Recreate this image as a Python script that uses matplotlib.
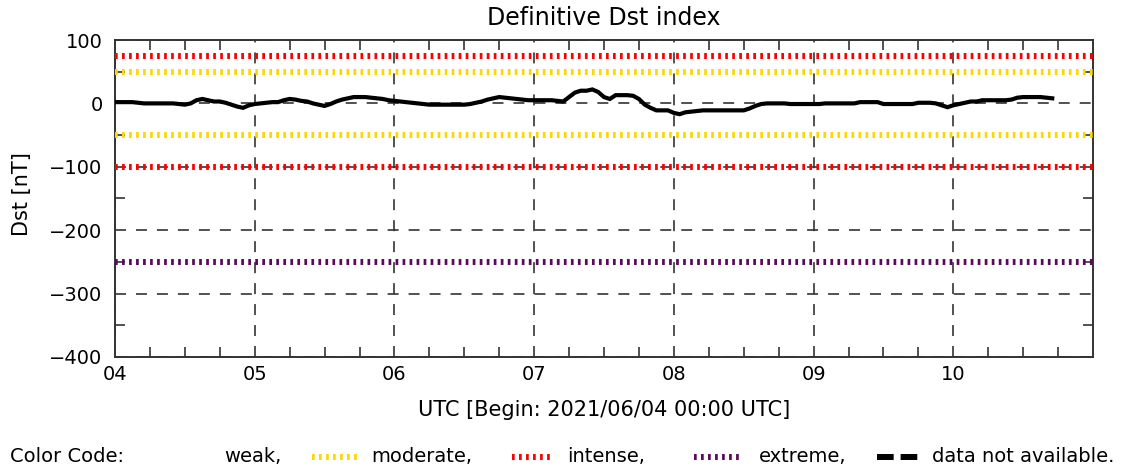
import matplotlib
matplotlib.use("Agg")
import matplotlib.pyplot as plt
from matplotlib.lines import Line2D
from matplotlib.ticker import MultipleLocator, FixedLocator
import numpy as np

plt.rcParams['font.family'] = ['DejaVu Sans']
plt.rcParams['lines.scale_dashes'] = False

# Hourly Dst values [nT], starting 2021/06/04 00:00 UTC
dst = [
    2, 2, 2, 2, 1, 0,
    0, 0, 0, 0, 0, -1,
    -2, 0, 5, 7, 5, 3,
    3, 1, -2, -5, -7, -3,
    -1, 0, 1, 2, 2, 5,
    7, 6, 4, 3, 0, -2,
    -4, -1, 3, 6, 8, 10,
    10, 10, 9, 8, 7, 5,
    4, 3, 2, 1, 0, -1,
    -2, -2, -2, -2, -2, -2,
    -2, -1, 1, 3, 6, 8,
    10, 9, 8, 7, 6, 5,
    5, 5, 5, 5, 4, 3,
    10, 17, 20, 20, 22, 18,
    10, 7, 13, 13, 13, 12,
    7, -2, -7, -11, -11, -11,
    -15, -17, -14, -13, -12, -11,
    -11, -11, -11, -11, -11, -11,
    -11, -8, -4, -1, 0, 0,
    0, 0, -1, -1, -1, -1,
    -1, -1, 0, 0, 0, 0,
    0, 0, 2, 2, 2, 2,
    -1, -1, -1, -1, -1, -1,
    1, 1, 1, 0, -3, -6,
    -3, -1, 1, 3, 3, 5,
    5, 5, 5, 5, 6, 9,
    10, 10, 10, 10, 9, 8,
]
hours = np.arange(len(dst))

day_labels = ['04', '05', '06', '07', '08', '09', '10']
day_ticks = [0, 24, 48, 72, 96, 120, 144]
y_ticks = [100, 0, -100, -200, -300, -400]

levels = [50, -50, 75, -100, -250]
level_colors = ['#FFD700', '#FFD700', '#FF0000', '#FF0000', '#5A0A5A']
legend_names = ['weak,', 'moderate,', 'intense,', 'extreme,', 'data not available.']

W, H = 1134, 470
fig = plt.figure(figsize=(W / 100, H / 100), dpi=100)
ax = fig.add_axes([115 / W, 1 - 357 / H, 978 / W, 317 / H])

ax.set_xlim(0, 168)
ax.set_ylim(-400, 100)

dot_style = (0, (1.95, 3.1))
for lev, col in zip(levels, level_colors):
    ax.axhline(lev, color=col, lw=4.3, linestyle=dot_style,
               solid_capstyle='butt', dash_capstyle='butt', zorder=3)

ax.plot(hours, dst, color='black', lw=3.0, zorder=4, solid_joinstyle='miter')

ax.set_xticks(day_ticks)
ax.set_xticklabels(day_labels)
ax.xaxis.set_minor_locator(FixedLocator([h for h in range(6, 168, 6) if h % 24 != 0]))
ax.set_yticks(y_ticks)
ax.set_yticklabels([str(v).replace('-', '\u2212') for v in y_ticks])
ax.yaxis.set_minor_locator(FixedLocator([50, -50, -150, -250, -350]))

ax.grid(True, which='major', color='#333333', lw=1.2, linestyle=(0, (7.9, 7.2)), zorder=1)
ax.set_axisbelow(True)

ax.tick_params(which='major', length=0, labelsize=14, colors='#333333', labelcolor='black')
ax.tick_params(axis='y', which='major', pad=9)
ax.tick_params(axis='x', which='major', pad=6)
ax.tick_params(which='minor', direction='in', length=7.2, width=1.2,
               top=True, right=True, color='#333333')
for sp in ax.spines.values():
    sp.set_color('#333333')
    sp.set_linewidth(1.4)

fig.text(604 / W, 1 - 18 / H, 'Definitive Dst index', ha='center', va='center', fontsize=17)
fig.text(22 / W, 1 - 194 / H, 'Dst [nT]', ha='center', va='center', rotation=90, fontsize=15)
fig.text(604 / W, 1 - 410 / H, 'UTC [Begin: 2021/06/04 00:00 UTC]', ha='center', va='center', fontsize=15)

# colour code legend row
ly = 1 - 457 / H
fig.text(10 / W, ly, 'Color Code:', ha='left', va='center', fontsize=14)
text_x = [224, 371, 567, 759, 932]
for name, tx in zip(legend_names, text_x):
    fig.text(tx / W, ly, name, ha='left', va='center', fontsize=14)
samples = [(312, 358, '#FFD700', dot_style), (512, 550, '#FF0000', dot_style),
           (694, 741, '#5A0A5A', dot_style), (877, 923, 'black', (0, (12, 5)))]
for x0, x1, col, ls in samples:
    fig.add_artist(Line2D([x0 / W, x1 / W], [ly, ly], transform=fig.transFigure,
                          color=col, lw=4.3, linestyle=ls, dash_capstyle='butt'))

fig.savefig('out.png', dpi=100)
